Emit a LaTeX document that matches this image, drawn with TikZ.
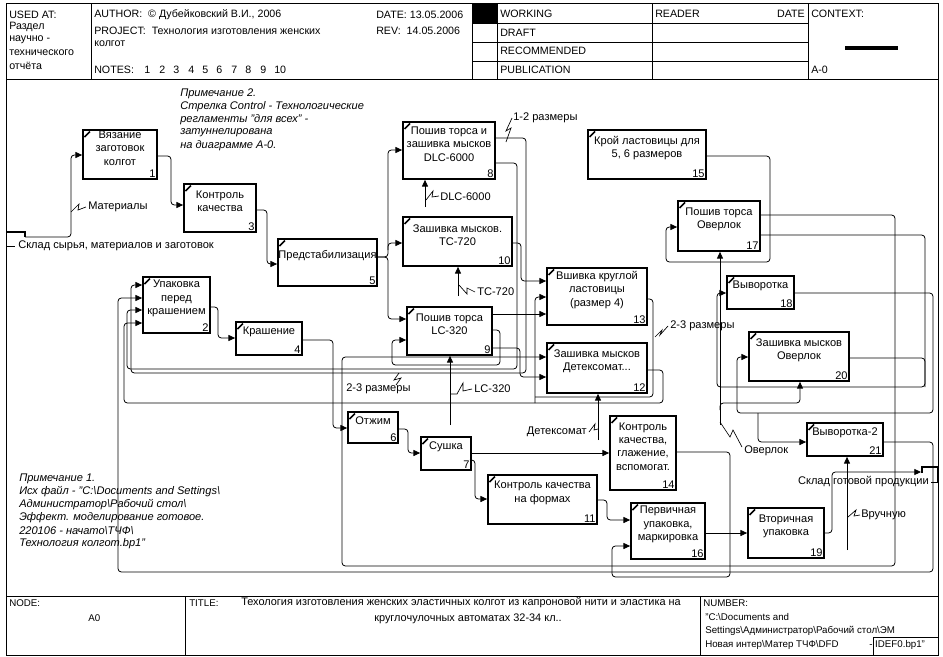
\documentclass[tikz,border=0pt]{standalone}
\usepackage{fontspec}
\setmainfont{Liberation Sans}
\usetikzlibrary{arrows.meta,fit,calc}
\tikzset{
  boxst/.style={draw, line width=1.3pt, inner sep=0pt},
  btext/.style={font=\fontsize{8.3}{10}\selectfont, align=center, inner sep=0pt},
  bnum/.style={font=\fontsize{8.3}{10}\selectfont, anchor=south east, inner sep=1.5pt},
  flow/.style={line width=0.6pt, rounded corners=2.5pt},
  arr/.style={flow, -{Triangle[length=5pt,width=4.5pt]}},
  sqst/.style={line width=0.5pt},
  lbl/.style={font=\fontsize{8.3}{10}\selectfont, anchor=west, inner sep=0pt},
  hdr/.style={font=\fontsize{8}{10}\selectfont, anchor=west, inner sep=0pt},
  ftr/.style={font=\fontsize{7.3}{9}\selectfont, anchor=west, inner sep=0pt},
  ttl/.style={font=\fontsize{8.2}{9}\selectfont, inner sep=0pt},
  note/.style={font=\itshape\fontsize{8.3}{10}\selectfont, anchor=west, inner sep=0pt},
  frm/.style={line width=0.6pt},
}
\newcommand{\pbox}[7]{%
  \coordinate (#1-nw) at (#2,#3);
  \coordinate (#1-se) at (#4,#5);
  \node[boxst, fit=(#1-nw)(#1-se)] (#1) {};
  \node[btext] at ($(#1.center)+(0,-6.5)$) {#6};
  \node[bnum] at (#1.south east) {#7};
  \draw[line width=1.2pt] ($(#1-nw)+(1.5,7)$) -- ($(#1-nw)+(7,1.5)$);
}
\begin{document}
\begin{tikzpicture}[x=0.75pt,y=-0.75pt]
\useasboundingbox (0,0) rectangle (943,657);
% ---------- frame and header ----------
\draw[frm] (6,3) rectangle (938,655);
\draw[frm] (6,79) -- (938,79);
\draw[frm] (6,596) -- (938,596);
\foreach \xx in {91,472,497,652,808} {\draw[frm] (\xx,3) -- (\xx,79);}
\foreach \yy in {23,42,61} {\draw[frm] (472,\yy) -- (808,\yy);}
\fill (845,46) rectangle (898,50);
\node[hdr] at (9,15) {USED AT:};
\node[hdr] at (9,27) {Раздел};
\node[hdr] at (9,40) {научно -};
\node[hdr] at (9,53) {технического};
\node[hdr] at (9,66) {отчёта};
\node[hdr] at (94,15) {AUTHOR:\ \ © Дубейковский В.И., 2006};
\node[hdr] at (94,31) {PROJECT:\ \ Технология изготовления женских};
\node[hdr] at (94,44) {колгот};
\node[hdr] at (94,70) {NOTES:};
\foreach \nn/\xx in {1/144,2/159,3/173,4/188,5/202,6/216,7/231,8/245,9/260,10/274} {\node[hdr] at (\xx,70) {\nn};}
\node[hdr] at (376,15) {DATE: 13.05.2006};
\node[hdr] at (376,31) {REV:\ \ 14.05.2006};
\fill (472,3) rectangle (497,23);
\node[hdr] at (500,14) {WORKING};
\node[hdr] at (500,33) {DRAFT};
\node[hdr] at (500,51) {RECOMMENDED};
\node[hdr] at (500,70) {PUBLICATION};
\node[hdr] at (655,14) {READER};
\node[hdr, anchor=east] at (805,14) {DATE};
\node[hdr] at (811,14) {CONTEXT:};
\node[hdr] at (811,70) {A-0};
% ---------- footer ----------
\draw[frm] (185,596) -- (185,655);
\draw[frm] (700,596) -- (700,655);
\draw[frm] (873,655) -- (873,637) -- (938,637);
\node[ftr] at (9,603) {NODE:};
\node[ftr] at (88,618) {A0};
\node[ftr] at (189,603) {TITLE:};
\node[ttl, anchor=west] at (241,603) {Техология изготовления женских эластичных колгот из капроновой нити и эластика на};
\node[ttl] at (468,619) {круглочулочных автоматах 32-34 кл..};
\node[ftr] at (703,603) {NUMBER:};
\node[ftr] at (705,617) {"C:\textbackslash Documents and};
\node[ftr] at (705,631) {Settings\textbackslash Администратор\textbackslash Рабочий стол\textbackslash ЭМ};
\node[ftr] at (705,645) {Новая интер\textbackslash Матер ТЧФ\textbackslash DFD};
\node[ftr] at (869,645) {- IDEF0.bp1"};
% ---------- notes ----------
\node[note] at (180,94) {Примечание 2.};
\node[note] at (180,107) {Стрелка Control - Технологические};
\node[note] at (180,120) {регламенты "для всех" -};
\node[note] at (180,133) {затуннелирована};
\node[note] at (180,146) {на диаграмме А-0.};
\node[note] at (19,479) {Примечание 1.};
\node[note] at (19,492) {Исх файл - "C:\textbackslash Documents and Settings\textbackslash};
\node[note] at (19,505) {Администратор\textbackslash Рабочий стол\textbackslash};
\node[note] at (19,518) {Эффект. моделирование готовое.};
\node[note] at (19,531) {220106 - начато\textbackslash ТЧФ\textbackslash};
\node[note] at (19,544) {Технология колгот.bp1"};
% ---------- boxes ----------
\pbox{b1}{83}{130}{157}{179}{Вязание\\заготовок\\колгот}{1}
\pbox{b2}{143}{277}{210}{333}{Упаковка\\перед\\крашением}{2}
\pbox{b3}{184}{184}{256}{232}{Контроль\\качества}{3}
\pbox{b4}{236}{322}{302}{355}{Крашение}{4}
\pbox{b5}{278}{239}{377}{286}{Предстабилизация}{5}
\pbox{b6}{348}{412}{398}{443}{Отжим}{6}
\pbox{b7}{421}{437}{471}{470}{Сушка}{7}
\pbox{b8}{403}{122}{495}{179}{Пошив торса и\\зашивка мысков\\DLC-6000}{8}
\pbox{b9}{407}{307}{492}{355}{Пошив торса\\LC-320}{9}
\pbox{b10}{403}{217}{512}{266}{Зашивка мысков.\\TC-720}{10}
\pbox{b11}{488}{475}{597}{524}{Контроль качества\\на формах}{11}
\pbox{b12}{547}{343}{647}{393}{Зашивка мысков\\Детексомат...}{12}
\pbox{b13}{547}{268}{647}{325}{Вшивка круглой\\ластовицы\\(размер 4)}{13}
\pbox{b14}{610}{416}{676}{490}{Контроль\\качества,\\глажение,\\вспомогат.}{14}
\pbox{b15}{588}{130}{706}{179}{Крой ластовицы для\\5, 6 размеров}{15}
\pbox{b16}{631}{503}{705}{559}{Первичная\\упаковка,\\маркировка}{16}
\pbox{b17}{678}{201}{760}{251}{Пошив торса\\Оверлок}{17}
\pbox{b18}{727}{276}{794}{309}{Выворотка}{18}
\pbox{b19}{748}{508}{824}{558}{Вторичная\\упаковка}{19}
\pbox{b20}{749}{332}{849}{381}{Зашивка мысков\\Оверлок}{20}
\pbox{b21}{807}{423}{883}{456}{Выворотка-2}{21}
% ---------- boundary arrows ----------
\draw[line width=1.2pt] (7,232) -- (25,232) -- (25,237);
\coordinate (src) at (25,237);
\draw[sqst] (7,246) -- (15,246);
\node[lbl] at (18,246) {Склад сырья, материалов и заготовок};
\draw[arr] (src) -- (71,237) -- (71,155) -- (b1.west |- 0,155);
\draw[sqst] (71,212) -- (79,204) -- (78,210) -- (86,207);
\node[lbl] at (88,207) {Материалы};
\coordinate (dst) at (921,472);
\draw[arr] (b19.east |- 0,533) -- (832,533) -- (832,472) -- (dst);
\draw[line width=1.2pt] (922,473) -- (922,467) -- (938,467) -- (938,482);
\draw[sqst] (931,482) -- (938,482);
\node[lbl, anchor=east] at (929,482) {Склад готовой продукции};
% ---------- main flow ----------
\draw[arr] (b1.east |- 0,156) -- (171,156) -- (171,205) -- (b3.west |- 0,205);
\draw[arr] (b3.east |- 0,210) -- (267,210) -- (267,264) -- (b5.west |- 0,264);
\draw[arr] (b5.east |- 0,257) -- (388,257) -- (388,150) -- (b8.west |- 0,150);
\draw[arr] (388,250) -- (388,243) -- (b10.west |- 0,243);
\draw[arr] (b5.east |- 0,257) -- (388,257) -- (388,319) -- (b9.west |- 0,319);
\draw[arr] (b9.east |- 0,314) -- (b13.west |- 0,314);
\draw[arr] (b9.east |- 0,348) -- (520,348) -- (520,377) -- (b12.west |- 0,377);
\draw[arr] (b9.east |- 0,330) -- (500,330) -- (500,365) -- (392,365) -- (392,340) -- (b9.west |- 0,340);
\draw[arr] (b8.east |- 0,138) -- (526,138) -- (526,373) -- (131,373) -- (131,285) -- (b2.west |- 0,285);
\draw[arr] (b8.east |- 0,163) -- (517,163) -- (517,369) -- (127,369) -- (127,310) -- (b2.west |- 0,310);
\draw[arr] (b10.east |- 0,243) -- (521,243) -- (521,281) -- (b13.west |- 0,281);
\draw[arr] (b12.east |- 0,370) -- (663,370) -- (663,403) -- (124,403) -- (124,323) -- (b2.west |- 0,323);
\draw[arr] (535,403) -- (535,297) -- (b13.west |- 0,297);
\draw[flow] (b13.east |- 0,299) -- (653,299) -- (653,397) -- (535,397);
\draw[arr] (b2.east |- 0,307) -- (218,307) -- (218,338) -- (b4.west |- 0,338);
\draw[arr] (b4.east |- 0,340) -- (333,340) -- (333,428) -- (b6.west |- 0,428);
\draw[arr] (b6.east |- 0,429) -- (408,429) -- (408,453) -- (b7.west |- 0,453);
\draw[arr] (b7.east |- 0,453) -- (b14.west |- 0,453);
\draw[arr] (b7.east |- 0,460) -- (475,460) -- (475,499) -- (b11.west |- 0,499);
\draw[arr] (b11.east |- 0,500) -- (607,500) -- (607,520) -- (b16.west |- 0,520);
\draw[arr] (b14.east |- 0,452) -- (730,452) -- (730,577) -- (612,577) -- (612,546) -- (b16.west |- 0,546);
\draw[arr] (b16.east |- 0,533) -- (b19.west |- 0,533);
\draw[arr] (b15.east |- 0,156) -- (770,156) -- (770,262) -- (666,262) -- (666,227) -- (b17.west |- 0,227);
\draw[arr] (b17.east |- 0,215) -- (895,215) -- (895,566) -- (342,566) -- (342,357) -- (b12.west |- 0,357);
\draw[arr] (b17.east |- 0,235) -- (925,235) -- (925,387) -- (717,387) -- (717,293) -- (b18.west |- 0,293);
\draw[flow] (b20.east |- 0,358) -- (925,358) -- (925,387);
\draw[arr] (b18.east |- 0,293) -- (933,293) -- (933,413) -- (737,413) -- (737,357) -- (b20.west |- 0,357);
\draw[arr] (758,413) -- (758,442) -- (b21.west |- 0,442);
\draw[arr] (b21.east |- 0,442) -- (933,442) -- (933,572) -- (118,572) -- (118,298) -- (b2.west |- 0,298);
% ---------- mechanisms ----------
\draw[arr] (425,207) -- (b8.south -| 425,0);
\draw[sqst] (426,200) -- (433,191) -- (432,197) -- (439,196);
\node[lbl] at (440,197) {DLC-6000};
\draw[arr] (458,296) -- (b10.south -| 458,0);
\draw[sqst] (459,285) -- (467,294) -- (467,288) -- (475,292);
\node[lbl] at (477,292) {TC-720};
\draw[arr] (450,425) -- (b9.south -| 450,0);
\draw[sqst] (451,394) -- (457,394) -- (463,383) -- (463,391) -- (472,389);
\node[lbl] at (474,389) {LC-320};
\draw[arr] (598,440) -- (b12.south -| 598,0);
\draw[sqst] (589,432) -- (595,424) -- (594,430) -- (598,429);
\node[lbl, anchor=east] at (587,432) {Детексомат};
\draw[arr] (720,425) -- (b17.south -| 720,0);
\draw[arr] (720,410) -- (720,403) -- (800,403) -- (b20.south -| 800,0);
\draw[sqst] (720,422) -- (730,437) -- (733,430) -- (742,447);
\node[lbl] at (744,451) {Оверлок};
\draw[arr] (847,550) -- (b21.south -| 847,0);
\draw[sqst] (848,517) -- (856,510) -- (854,516) -- (860,515);
\node[lbl] at (861,515) {Вручную};
% ---------- call-outs ----------
\draw[sqst] (506,142) -- (511,128) -- (506,131) -- (512,118);
\node[lbl] at (513,118) {1-2 размеры};
\draw[sqst] (655,337) -- (662,330) -- (660,335) -- (668,326);
\node[lbl] at (670,326) {2-3 размеры};
\draw[sqst] (399,373) -- (394,380) -- (401,378) -- (396,385);
\node[lbl] at (346,389) {2-3 размеры};
\end{tikzpicture}
\end{document}
